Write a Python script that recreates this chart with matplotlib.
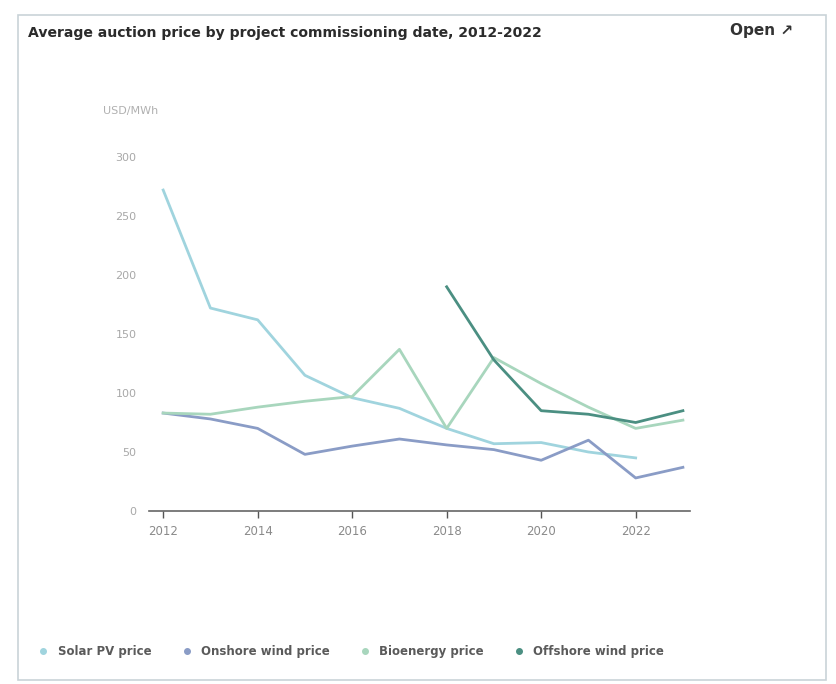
"""
plot.py

Average auction price by project commissioning date, 2012-2022.
"""
import numpy as np
import matplotlib
matplotlib.use("Agg")
from matplotlib import pyplot as plt
from matplotlib.lines import Line2D
from matplotlib.patches import Rectangle

years = np.arange(2012, 2024)
solar_pv = [272, 172, 162, 115, 96, 87, 70, 57, 58, 50, 45, np.nan]
onshore_wind = [83, 78, 70, 48, 55, 61, 56, 52, 43, 60, 28, 37]
bioenergy = [83, 82, 88, 93, 97, 137, 70, 130, 108, 88, 70, 77]
offshore_wind = [np.nan] * 6 + [190, 128, 85, 82, 75, 85]

series_labels = ["Solar PV price", "Onshore wind price", "Bioenergy price", "Offshore wind price"]
series_colors = ["#a0d4de", "#8a9cc6", "#a8d6bd", "#4b8f82"]

y_ticks = [0, 50, 100, 150, 200, 250, 300]
x_ticks = [2012, 2014, 2016, 2018, 2020, 2022]

fig = plt.figure(figsize=(8.36, 6.84), dpi=100)

# card frame
fig.patches.append(Rectangle((18 / 836, 4 / 684), 808 / 836, 665 / 684,
                             transform=fig.transFigure, fill=False,
                             edgecolor="#c9d3d8", linewidth=1.2))

fig.text(28 / 836, 1 - 33 / 684, "Average auction price by project commissioning date, 2012-2022",
         fontsize=10.1, fontweight="bold", color="#2b2b2b", va="center")
fig.text(730 / 836, 1 - 31 / 684, "Open \u2197", fontsize=11, fontweight="bold",
         color="#333333", va="center")

ax = fig.add_axes([149 / 836, 1 - 511 / 684, 541 / 836, 354 / 684])

series = [solar_pv, onshore_wind, bioenergy, offshore_wind]
for values, color in zip(series, series_colors):
    ax.plot(years, values, color=color, linewidth=2.0)

ax.set_xlim(2011.7, 2023.15)
ax.set_ylim(0, 300)
ax.set_xticks(x_ticks)
ax.set_yticks(y_ticks)
ax.tick_params(axis="y", length=0, pad=9, labelsize=8, labelcolor="#a8a8a8")
ax.tick_params(axis="x", length=5, width=1, color="#555555", pad=5,
               labelsize=8.5, labelcolor="#8a8a8a")

for side in ["top", "right", "left"]:
    ax.spines[side].set_visible(False)
ax.spines["bottom"].set_color("#666666")
ax.spines["bottom"].set_linewidth(1.2)

ax.text(-0.085, 1.13, "USD/MWh", transform=ax.transAxes, fontsize=8,
        color="#b0b0b0", ha="left", va="center")

handles = [Line2D([], [], linestyle="none", marker="o", markersize=4,
                  markerfacecolor=c, markeredgecolor=c) for c in series_colors]
leg = fig.legend(handles, series_labels, loc="center left",
                 bbox_to_anchor=(28 / 836, 1 - 652 / 684), ncol=4, frameon=False,
                 fontsize=8.5, handlelength=0.8, handletextpad=0.8, columnspacing=2.6)
for t in leg.get_texts():
    t.set_fontweight("bold")
    t.set_color("#5a5a5a")

fig.savefig("out.png", dpi=100)
